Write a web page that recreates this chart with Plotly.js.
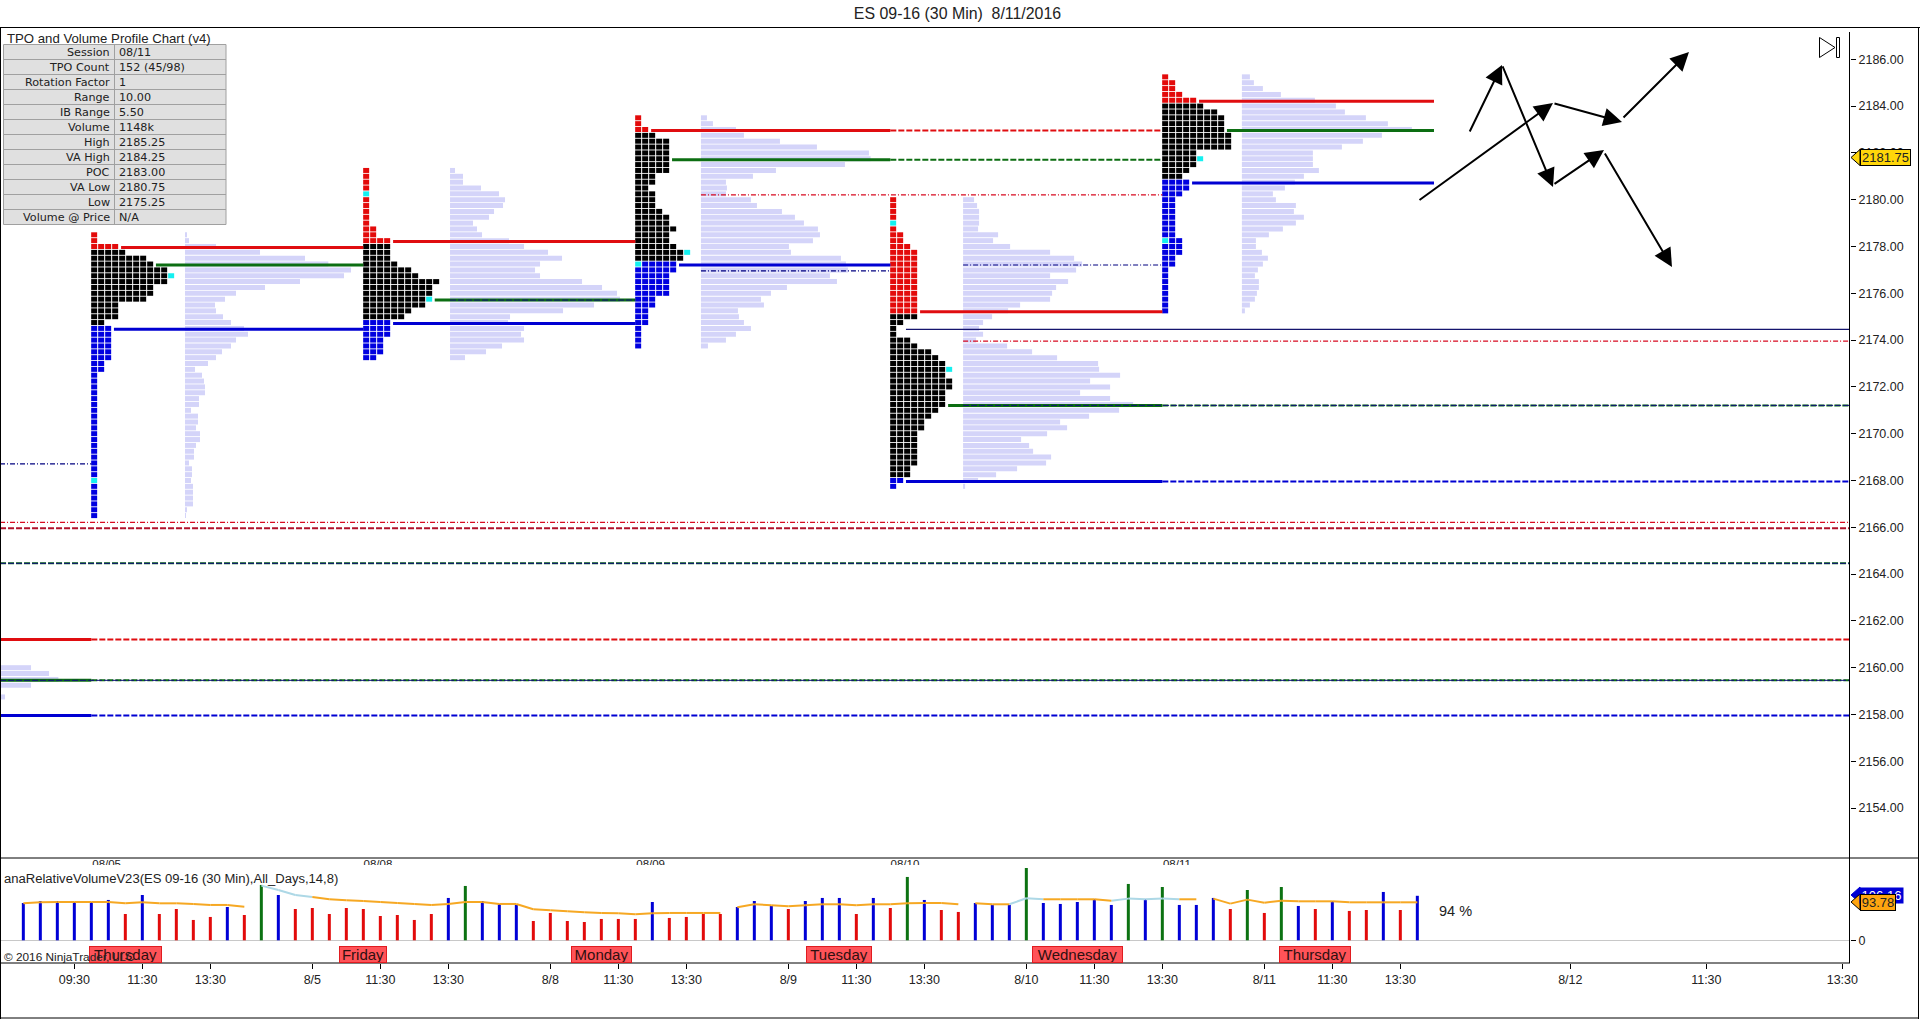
<!DOCTYPE html>
<html>
<head>
<meta charset="utf-8">
<script src="https://cdn.plot.ly/plotly-3.0.1.min.js"></script>
<style>html,body{margin:0;padding:0;background:#fff;overflow:hidden}#chart{width:1920px;height:1019px}</style>
</head>
<body>
<div id="chart"></div>
<script>
// ---------- Stats table ----------
const statLabels = ["Session","TPO Count","Rotation Factor","Range","IB Range","Volume","High","VA High","POC","VA Low","Low","Volume @ Price"];
const statValues = ["08/11","152 (45/98)","1","10.00","5.50","1148k","2185.25","2184.25","2183.00","2180.75","2175.25","N/A"];

// ---------- Axis ticks ----------
const priceTicks = [2154,2156,2158,2160,2162,2164,2166,2168,2170,2172,2174,2176,2178,2180,2182,2184,2186];
const timeTickBars = [3,7,11,17,21,25,31,35,39,45,49,53,59,63,67,73,77,81,91,99,107];
const timeTickText = ["09:30","11:30","13:30","8/5","11:30","13:30","8/8","11:30","13:30","8/9","11:30","13:30","8/10","11:30","13:30","8/11","11:30","13:30","8/12","11:30","13:30"];

// ---------- TPO profiles (columns per row, top row first) ----------
const tpoStartBars = [4,20,36,51,67];
const tpoTopPrices = [2178.5,2181.25,2183.5,2180,2185.25];
const tpoRedRows = [3,13,3,20,5];
const tpoBlackRows = [13,13,22,28,13];
const tpoCols1 = [1,1,4,5,8,9,11,11,11,9,9,8,4,4,4,2,3,3,3,3,3,3,2,2,1,1,1,1,1,1,1,1,1,1,1,1,1,1,1,1,1,1,1,1,1,1,1,1,1];
const tpoCols2 = [1,1,1,1,1,1,1,1,1,1,2,2,4,4,4,4,5,7,8,11,10,10,9,9,7,6,4,4,4,3,3,3,2];
const tpoCols3 = [1,1,2,3,5,5,5,5,5,5,3,3,2,3,3,3,4,5,5,6,5,5,6,7,7,6,6,5,5,5,5,3,3,2,2,2,1,1,1,1];
const tpoCols4 = [1,1,1,1,1,1,2,2,3,4,4,4,4,4,4,4,4,4,4,4,4,2,1,1,3,4,6,7,8,8,8,9,9,8,8,8,7,6,5,5,4,4,4,4,4,4,3,3,2,1];
const tpoCols5 = [1,2,2,3,5,6,8,9,9,9,10,10,10,5,5,5,4,3,4,4,3,2,2,2,2,2,2,2,3,3,3,2,2,1,1,1,1,1,1,1,1];
const tpoColsAll = [tpoCols1,tpoCols2,tpoCols3,tpoCols4,tpoCols5];
// [session, row, column] of the highlighted cells
const tpoCyanCells = [[0,7,11],[0,42,0],[1,4,0],[1,22,9],[2,23,7],[2,25,0],[3,4,0],[3,29,8],[4,14,5],[4,28,0]];

// ---------- Volume profiles (same rows as the TPO rows) ----------
const volStartBars = [9.51,25.1,39.86,55.28,71.68];
const volRows1 = [6,12,93,225,360,430,498,477,345,240,153,120,90,93,114,138,177,189,153,138,111,93,69,30,51,57,60,60,42,42,18,39,39,33,45,45,33,27,27,12,21,21,18,24,24,24,24,6,3];
const volRows2 = [15,39,39,93,147,165,159,132,117,69,81,96,177,222,294,336,270,255,270,396,456,501,510,432,339,180,174,222,213,222,156,108,45];
const volRows3 = [18,36,105,129,237,348,504,509,432,225,156,75,78,75,150,168,243,282,309,351,357,336,264,270,420,435,441,387,408,258,210,180,189,111,114,129,150,105,75,21];
const volRows4 = [33,42,48,48,48,45,105,90,141,261,333,357,339,261,315,279,267,261,171,135,87,60,48,60,39,132,207,282,405,408,471,381,441,351,441,510,468,378,291,312,252,174,198,210,264,249,162,99,45,6];
const volRows5 = [24,36,63,117,219,282,309,372,438,510,420,363,300,213,213,213,231,186,159,129,93,102,162,156,186,162,123,81,42,42,60,78,63,48,39,51,51,45,39,24,9];
const volRowsAll = [volRows1,volRows2,volRows3,volRows4,volRows5];
const volRowsPrior = [93,147,175,93,0,15];
const volPriorTop = 2160;
const volPriorStart = -1.37;
const volPerBar = 51;

// ---------- Level lines: [price, fromBar, toBar, kind] ----------
const levelLines = [
 [2161.25,-1.37,4,"redS"],[2159.5,-1.37,4,"greenS"],[2158,-1.37,4,"blueS"],
 [2161.25,4,107.45,"redD"],[2159.5,4,107.45,"greenD"],[2158,4,107.45,"blueD"],
 [2159.5,-1.37,107.45,"navyD"],
 [2166.25,-1.37,107.45,"redT"],[2166,-1.37,107.45,"dkredD"],
 [2164.5,-1.37,107.45,"greenD"],[2164.5,-1.37,107.45,"navyD"],
 [2168.75,-1.37,4,"navyT"],
 [2178,5.75,20,"redS"],[2177.25,7.8,20,"greenS"],[2174.5,5.33,20,"blueS"],
 [2178.25,21.75,36,"redS"],[2175.75,24.2,36,"greenS"],[2174.75,21.75,36,"blueS"],
 [2175.75,25.1,36,"navyD"],
 [2183,36.93,51,"redS"],[2181.75,38.16,51,"greenS"],[2177.25,38.57,51,"blueS"],
 [2183,51,67,"redD"],[2181.75,51,67,"greenD"],
 [2177.25,55.28,67,"navyT"],[2177,39.86,51,"navyT"],
 [2180.25,39.86,67,"redT"],
 [2175.25,52.75,67,"redS"],[2171.25,54.4,67,"greenS"],[2168,51.92,67,"blueS"],
 [2171.25,67,107.45,"greenD"],[2171.25,55.28,107.45,"navyD"],[2168,67,107.45,"blueD"],
 [2174.5,51.92,107.45,"navyS"],[2174,55.28,107.45,"redT"],
 [2184.25,69.16,82.98,"redS"],[2183,70.8,82.98,"greenS"],[2180.75,68.75,82.98,"blueS"]
];
const levelLineShift = -0.04; // the lines sit about a pixel under their nominal price

// ---------- Drawn arrows: [tailBar, tailPrice, headBar, headPrice] ----------
const drawnArrows = [
 [82.04,2179.94,89.98,2184.13],[89.98,2184.13,94.04,2183.32],[94.04,2183.45,97.98,2186.31],
 [85.04,2182.85,86.98,2185.76],[86.98,2185.76,89.98,2180.54],[89.98,2180.63,92.98,2182.12],
 [92.98,2182.04,96.98,2177.12]
];

// ---------- Relative volume panel ----------
const relVolume = [89,93.8,93.8,91.4,91.4,96.2,62.8,108.1,62.8,74.7,48.5,55.7,79.5,60.4,132,108.1,74.7,77.1,62.8,77.1,74.7,58,60.4,48.5,62.8,101,129.6,93.8,86.7,84.3,46.1,65.2,46.1,43.7,50.9,50.9,50.9,91.4,53.3,55.7,62.8,62.8,79.5,93.8,81.9,74.7,93.8,101,101,62.8,101,77.1,151.1,96.2,72.3,67.6,89,84.3,84.3,172.5,89,86.7,91.4,98.6,84.3,134.4,98.6,127.2,84.3,84.3,101,74.7,120,65.2,127.2,81.9,74.7,93.8,70,72.3,115.3,72.3,106.16];
const relVolumeKinds = "bbbbbbrbrrrrbrgbrrrrrrrrrbgbbbrrrrrrrbrrrrbbbrbbbrbrgbrrbbbgbbbbbgbgbbbrgrgbrbrrbrb".split("");
const relAverage = [88.2,90.6,91.4,91.4,91.4,91.4,88.2,90.6,88.2,88.2,86.7,84.3,84.3,80.3,130.4,120,108.1,103.4,97.8,95.4,93.8,91.4,89,86.7,84.3,86.7,91.4,91.4,86.7,86.7,73.9,71.6,69.2,66.8,65.2,64.4,62,64.4,65.2,65.2,65.2,65.2,78.7,85.9,83.5,81.1,83.5,85.9,85.9,83.5,85.9,85.9,88.2,89,89,85.9,88.2,85.9,85.9,100.2,97.8,97.8,97.8,97.8,94.6,99.4,97.8,99.4,97.8,97.8,99.4,87.5,97,89.8,94.6,93,93,93,90.6,90.6,90.6,90.6,90.6];
const avgBreaksAfter = [13,41,55,69];
const avgLightRuns = [[14,17],[58,60],[64,68]];

const dayNames = ["Thursday","Friday","Monday","Tuesday","Wednesday","Thursday"];
const dayBars = [6,20,34,48,62,76];
const dayBoxWidths = [73,48,61,66,91,72];
const sessionTags = ["08/05","08/08","08/09","08/10","08/11"];
const sessionTagBars = [4.9,20.86,36.9,51.86,67.86];

// ---------- Geometry & style ----------
const W=1920,H=1019;
const X=p=>p/W, Y=p=>1-p/H;
const PLOT_L=1,PLOT_R=1850,MAIN_T=27,MAIN_B=858,SUB_B=963;
const barPx=17, bar0=23.33, pxPerPt=23.4, y2186=59.3;
const pxPerVal=1/2.385, subZero=940.3;
const cellW=6/barPx, colPitch=7/barPx, rowH=5/pxPerPt, rowStep=0.25;
const C={red:"#e30a0a",black:"#000000",blue:"#0000e0",cyan:"#14f0f0",vol:"#d4d4f9",
         g:"#0c7212",r:"#e20b0b",b:"#0000d6",orange:"#f6a823",light:"#add8e6"};
const lineKinds={
 redS:{color:"#e00d10",width:3},greenS:{color:"#0c6e12",width:3},blueS:{color:"#0000d2",width:3},navyS:{color:"#14146e",width:1.2},
 redD:{color:"#e00d10",width:2,dash:"6px,2px"},greenD:{color:"#0c6e12",width:2,dash:"6px,2px"},blueD:{color:"#0000d2",width:2,dash:"6px,2px"},
 dkredD:{color:"#b0102a",width:2,dash:"6px,2px"},navyD:{color:"#10107a",width:1,dash:"6px,2px"},
 redT:{color:"#d80a20",width:1.2,dash:"5px,2px,1px,2px"},navyT:{color:"#000080",width:1.2,dash:"5px,2px,1px,2px"}
};
const FONT="'Liberation Sans',Arial,sans-serif";

const traces=[];
// volume profiles
(function(){
  const y=[],len=[],base=[];
  volRowsAll.forEach((rows,s)=>rows.forEach((v,r)=>{y.push(tpoTopPrices[s]-r*rowStep);len.push(v/volPerBar);base.push(volStartBars[s]);}));
  volRowsPrior.forEach((v,r)=>{y.push(volPriorTop-r*rowStep);len.push(v/volPerBar);base.push(volPriorStart);});
  traces.push({type:"bar",orientation:"h",y:y,x:len,base:base,width:rowH,xaxis:"x",yaxis:"y",marker:{color:C.vol,line:{width:0}},hoverinfo:"skip"});
})();
// TPO cells
(function(){
  const buckets={red:{x:[],y:[],b:[]},black:{x:[],y:[],b:[]},blue:{x:[],y:[],b:[]},cyan:{x:[],y:[],b:[]}};
  const isCyan=(s,r,c)=>tpoCyanCells.some(k=>k[0]===s&&k[1]===r&&k[2]===c);
  tpoColsAll.forEach((rows,s)=>rows.forEach((n,r)=>{
    const zone=r<tpoRedRows[s]?"red":(r<tpoRedRows[s]+tpoBlackRows[s]?"black":"blue");
    const total=n+(tpoCyanCells.some(k=>k[0]===s&&k[1]===r&&k[2]===n)?1:0);
    for(let c=0;c<total;c++){
      const k=isCyan(s,r,c)?"cyan":zone;
      buckets[k].x.push(cellW);buckets[k].y.push(tpoTopPrices[s]-r*rowStep);buckets[k].b.push(tpoStartBars[s]-0.01+c*colPitch);
    }
  }));
  Object.keys(buckets).forEach(k=>traces.push({type:"bar",orientation:"h",y:buckets[k].y,x:buckets[k].x,base:buckets[k].b,width:rowH,xaxis:"x",yaxis:"y",marker:{color:C[k],line:{width:0}},hoverinfo:"skip"}));
})();
// level lines
levelLines.forEach(l=>traces.push({type:"scatter",mode:"lines",x:[l[1],l[2]],y:[l[0]+levelLineShift,l[0]+levelLineShift],xaxis:"x",yaxis:"y",line:lineKinds[l[3]],hoverinfo:"skip"}));
// relative volume bars
["b","r","g"].forEach(k=>{
  const xs=[],ys=[];
  relVolume.forEach((v,i)=>{if(relVolumeKinds[i]===k){xs.push(i);ys.push(v);}});
  traces.push({type:"bar",x:xs,y:ys,width:3/barPx,xaxis:"x",yaxis:"y2",marker:{color:C[k],line:{width:0}},hoverinfo:"skip"});
});
// average line
(function(){
  const o={x:[],y:[]},l={x:[],y:[]};
  for(let i=0;i<relAverage.length-1;i++){
    if(avgBreaksAfter.includes(i))continue;
    const t=avgLightRuns.some(r=>i>=r[0]&&i<r[1])?l:o;
    t.x.push(i,i+1,null);t.y.push(relAverage[i],relAverage[i+1],null);
  }
  traces.push({type:"scatter",mode:"lines",x:l.x,y:l.y,xaxis:"x",yaxis:"y2",line:{color:C.light,width:2},hoverinfo:"skip"});
  traces.push({type:"scatter",mode:"lines",x:o.x,y:o.y,xaxis:"x",yaxis:"y2",line:{color:C.orange,width:2},hoverinfo:"skip"});
})();
// clipped session tags just under the price panel
traces.push({type:"scatter",mode:"text",x:sessionTagBars,y:sessionTags.map(()=>0),text:sessionTags,textposition:"middle center",
  textfont:{family:FONT,size:11.5,color:"#222"},xaxis:"x",yaxis:"y3",cliponaxis:true,hoverinfo:"skip"});

// ---------- Shapes ----------
const line=(x0,y0,x1,y1,c,w)=>({type:"line",xref:"paper",yref:"paper",x0:X(x0),y0:Y(y0),x1:X(x1),y1:Y(y1),line:{color:c||"#000",width:w||1},layer:"above"});
const poly=(pts,fill,lc)=>({type:"path",xref:"paper",yref:"paper",layer:"above",fillcolor:fill,line:{color:lc||"#000",width:1},
  path:"M"+pts.map(p=>X(p[0])+","+Y(p[1])).join(" L")+" Z"});
const shapes=[
  line(0,27.5,1920,27.5),line(0.5,27,0.5,1019),line(0,1018,1918.5,1018),line(1918.5,27,1918.5,1019),
  line(1849.5,32,1849.5,963),line(0,858,1919,858),line(0,963,1850,963),
  {type:"rect",xref:"paper",yref:"paper",layer:"above",x0:X(3.5),x1:X(226),y0:Y(44.5),y1:Y(224.5),fillcolor:"#e0e0e0",line:{color:"#a0a0a0",width:1}},
  line(114.5,44.5,114.5,224.5,"#a0a0a0"),
  poly([[1819.5,37.5],[1835,47.5],[1819.5,57.5]],"rgba(255,255,255,0)"),
  poly([[1836.5,37.5],[1839.5,37.5],[1839.5,57.5],[1836.5,57.5]],"rgba(255,255,255,0)"),
  poly([[1851,157.5],[1860,149.5],[1860,165.5]],"#ffd60a"),
  poly([[1851,895],[1860,887],[1860,903]],"#0000d6","#0000d6"),
  poly([[1851,902],[1860,894],[1860,910]],"#ffa510")
];
for(let r=1;r<statLabels.length;r++) shapes.push(line(3.5,44.5+15*r,226,44.5+15*r,"#a0a0a0"));

// ---------- Annotations ----------
const txt=(px,py,text,size,anchor,color,family)=>({xref:"paper",yref:"paper",x:X(px),y:Y(py),text:text,showarrow:false,xanchor:anchor||"left",yanchor:"middle",
  font:{family:family||FONT,size:size,color:color||"#222"},borderpad:0});
const TFONT="'DejaVu Sans',sans-serif";
const annotations=[];
annotations.push(txt(6,38.5,"TPO and Volume Profile Chart (v4)",13.2));
statLabels.forEach((s,i)=>{
  annotations.push(txt(111,52+15*i,s,11.2,"right","#222",TFONT));
  annotations.push(txt(118,52+15*i,statValues[i],11.2,"left","#222",TFONT));
});
annotations.push(txt(3,878,"anaRelativeVolumeV23(ES 09-16 (30 Min),All_Days,14,8)",13.05));
annotations.push(txt(1438,911,"94 %",14.5));
dayNames.forEach((d,i)=>annotations.push({xref:"x",yref:"paper",x:dayBars[i],y:Y(954.5),text:d,showarrow:false,xanchor:"center",yanchor:"middle",
  width:dayBoxWidths[i]-2,height:15,bgcolor:"rgba(255,70,75,0.93)",bordercolor:"#e01c20",borderwidth:1,borderpad:0,font:{family:FONT,size:15,color:"#301010"}}));
annotations.push(txt(3,957,"© 2016 NinjaTrader, LLC",11.8,"left","#222"));
// value flags
annotations.push({xref:"paper",yref:"paper",x:X(1860),y:Y(157.5),xanchor:"left",yanchor:"middle",text:"2181.75",showarrow:false,width:49,height:15,
  bgcolor:"#ffd60a",bordercolor:"#000",borderwidth:1,borderpad:0,font:{family:FONT,size:13,color:"#222"}});
annotations.push({xref:"paper",yref:"paper",x:X(1859),y:Y(895),xanchor:"left",yanchor:"middle",text:"106.16",showarrow:false,width:43,height:15,
  bgcolor:"#0000d6",borderpad:0,font:{family:FONT,size:13,color:"#fff"}});
annotations.push({xref:"paper",yref:"paper",x:X(1860),y:Y(902),xanchor:"left",yanchor:"middle",text:"93.78",showarrow:false,width:34,height:15,
  bgcolor:"#ffa510",bordercolor:"#000",borderwidth:1,borderpad:0,font:{family:FONT,size:13,color:"#222"}});
// drawn arrows
drawnArrows.forEach(a=>annotations.push({xref:"x",yref:"y",axref:"x",ayref:"y",x:a[2],y:a[3],ax:a[0],ay:a[1],text:"",showarrow:true,
  arrowhead:2,arrowsize:1.85,arrowwidth:2,arrowcolor:"#000",standoff:0}));

// ---------- Layout ----------
const xMin=(PLOT_L-bar0)/barPx, xMax=(PLOT_R-bar0)/barPx;
const layout={
  width:W,height:H,autosize:false,margin:{l:0,r:0,t:0,b:0,pad:0},paper_bgcolor:"#fff",plot_bgcolor:"#fff",
  barmode:"overlay",showlegend:false,hovermode:false,dragmode:false,
  title:{text:"ES 09-16 (30 Min)\u00a0 8/11/2016",x:957.5/W,xanchor:"center",y:1-13/H,yanchor:"middle",xref:"paper",yref:"paper",font:{family:FONT,size:15.9,color:"#222"},automargin:false},
  xaxis:{domain:[X(PLOT_L),X(PLOT_R)],range:[xMin,xMax],anchor:"y2",tickmode:"array",tickvals:timeTickBars,ticktext:timeTickText,
    ticks:"outside",ticklen:5,tickcolor:"#000",tickwidth:1,showgrid:false,zeroline:false,showline:false,tickangle:0,
    tickfont:{family:FONT,size:12.5,color:"#222"},automargin:false,fixedrange:true},
  yaxis:{domain:[Y(MAIN_B),Y(MAIN_T)],range:[2186-(MAIN_B-y2186)/pxPerPt,2186+(y2186-MAIN_T)/pxPerPt],anchor:"x",side:"right",
    tickmode:"array",tickvals:priceTicks,ticktext:priceTicks.map(v=>v.toFixed(2)),ticks:"outside",ticklen:5,tickcolor:"#000",tickwidth:1,
    showgrid:false,zeroline:false,showline:false,tickfont:{family:FONT,size:12.5,color:"#222"},automargin:false,fixedrange:true},
  yaxis2:{domain:[Y(SUB_B),Y(MAIN_B)],range:[-(SUB_B-subZero)/pxPerVal,(subZero-MAIN_B)/pxPerVal],anchor:"x",side:"right",
    tickmode:"array",tickvals:[0],ticktext:["0"],ticks:"outside",ticklen:5,tickcolor:"#000",tickwidth:1,showgrid:false,
    zeroline:true,zerolinecolor:"#c8c8c8",zerolinewidth:1,showline:false,tickfont:{family:FONT,size:12.5,color:"#222"},automargin:false,fixedrange:true},
  yaxis3:{domain:[Y(865),Y(858.5)],range:[0,1],anchor:"x",visible:false,fixedrange:true},
  shapes:shapes,annotations:annotations
};
Plotly.newPlot("chart",traces,layout,{displayModeBar:false,responsive:false});
</script>
</body>
</html>
